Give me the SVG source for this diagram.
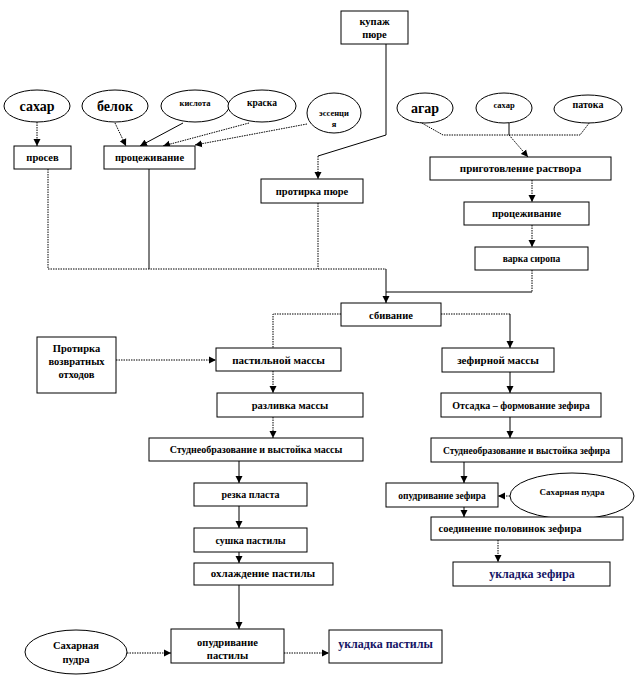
<svg xmlns="http://www.w3.org/2000/svg" width="636" height="687" viewBox="0 0 636 687">
<style>
text{font-family:"Liberation Serif","Times New Roman",serif;font-weight:bold;fill:#000;text-anchor:middle}
.n rect,.n ellipse{fill:#fff;stroke:#000;stroke-width:1}
.b{font-size:10px}
.big{font-size:14px}
.s{font-size:8.5px}
.m{font-size:10.5px}
.blue{fill:#141464;font-size:12px}
#connectors path{fill:none;stroke:#000;stroke-width:1}
#connectors .d{stroke-dasharray:1.5 1}
#connectors .ar{marker-end:url(#ah)}
</style>
<defs>
<marker id="ah" markerWidth="8" markerHeight="8" refX="7" refY="4" orient="auto" markerUnits="userSpaceOnUse">
<path d="M0,0.5 L7,4 L0,7.5 Z" fill="#000"/>
</marker>
</defs>
<rect width="636" height="687" fill="#fff"/>

<g id="connectors">
<path class="d ar" d="M37,122 V146"/>
<path class="d ar" d="M115,123 L126,146"/>
<path class="ar" d="M183,123 L140,146"/>
<path class="d ar" d="M249,123 L163,146"/>
<path class="d ar" d="M307,124 L195,145"/>
<path d="M386,44 V135 L318,156"/>
<path class="d ar" d="M318,156 V179"/>
<path class="d" d="M420,122 L443,135 H580 L590,122"/>
<path d="M509,123 V135"/>
<path class="d ar" d="M509,135 L528,157"/>
<path class="d ar" d="M532,180 V202"/>
<path class="d ar" d="M532,225 V247"/>
<path class="d" d="M48,169 V269 H386"/>
<path d="M149,169 V269"/>
<path class="d" d="M318,203 V269"/>
<path class="ar" d="M386,269 V303"/>
<path class="d" d="M532,270 V292"/>
<path d="M532,292 H386"/>
<path class="d" d="M341,314 H273 V348"/>
<path class="d" d="M441,314 H510"/>
<path class="ar" d="M510,314 V348"/>
<path class="d ar" d="M116,360 H216"/>
<path class="d ar" d="M273,371 V393"/>
<path class="d ar" d="M273,417 V438"/>
<path class="ar" d="M239,461 V483"/>
<path class="ar" d="M239,506 V528"/>
<path class="ar" d="M239,552 V563"/>
<path class="ar" d="M239,585 V629"/>
<path class="d ar" d="M127,653 H171"/>
<path class="d ar" d="M284,653 H329"/>
<path class="ar" d="M510,372 V393"/>
<path class="ar" d="M510,417 V438"/>
<path class="ar" d="M464,462 V483"/>
<path class="d ar" d="M510,496 H498"/>
<path class="ar" d="M464,507 V517"/>
<path class="d ar" d="M498,540 V562"/>
</g>

<g id="n-sahar1" class="n"><ellipse cx="37" cy="106" rx="33" ry="16"/><text class="big" x="37" y="111">сахар</text></g>
<g id="n-belok" class="n"><ellipse cx="115" cy="106" rx="33" ry="16"/><text class="big" x="115" y="111">белок</text></g>
<g id="n-kislota" class="n"><ellipse cx="195" cy="106" rx="34" ry="16"/><text class="s" x="195" y="106">кислота</text></g>
<g id="n-kraska" class="n"><ellipse cx="262" cy="106" rx="34" ry="16"/><text class="s" x="262" y="106" style="font-size:9.5px">краска</text></g>
<g id="n-essence" class="n"><ellipse cx="334" cy="113" rx="27" ry="20"/><text class="s" x="334" y="116">эссенци</text><text class="s" x="334" y="127">я</text></g>
<g id="n-agar" class="n"><ellipse cx="425" cy="108" rx="28" ry="15"/><text class="big" x="425" y="113">агар</text></g>
<g id="n-sahar2" class="n"><ellipse cx="504" cy="108" rx="28" ry="15"/><text class="s" x="504" y="108">сахар</text></g>
<g id="n-patoka" class="n"><ellipse cx="588" cy="109" rx="34" ry="14"/><text class="s" x="588" y="108" style="font-size:10px">патока</text></g>

<g id="n-kupazh" class="n"><rect x="341" y="11" width="67" height="33"/><text class="m" x="374.5" y="25">купаж</text><text class="m" x="374.5" y="38">пюре</text></g>
<g id="n-prosev" class="n"><rect x="14" y="146" width="57" height="23"/><text class="m" x="42.5" y="161">просев</text></g>
<g id="n-proc1" class="n"><rect x="104" y="146" width="91" height="23"/><text class="m" x="149.5" y="161">процеживание</text></g>
<g id="n-protirka" class="n"><rect x="261" y="179" width="102" height="24"/><text class="m" x="312" y="194.5">протирка пюре</text></g>
<g id="n-rastvor" class="n"><rect x="430" y="157" width="181" height="23"/><text class="m" x="520.5" y="172" style="font-size:11px">приготовление раствора</text></g>
<g id="n-proc2" class="n"><rect x="464" y="202" width="125" height="23"/><text class="m" x="526.5" y="217">процеживание</text></g>
<g id="n-sirop" class="n"><rect x="475" y="247" width="113" height="23"/><text class="m" x="531.5" y="262" style="font-size:9.5px">варка сиропа</text></g>
<g id="n-sbivanie" class="n"><rect x="341" y="303" width="100" height="23"/><text class="m" x="391" y="318.5">сбивание</text></g>
<g id="n-otkhody" class="n"><rect x="37" y="337" width="79" height="56"/><text class="m" x="76.5" y="352">Протирка</text><text class="m" x="76.5" y="365">возвратных</text><text class="m" x="76.5" y="378">отходов</text></g>
<g id="n-pastil" class="n"><rect x="216" y="348" width="125" height="23"/><text class="m" x="278.5" y="363.5" style="font-size:11px">пастильной массы</text></g>
<g id="n-zefir" class="n"><rect x="442" y="348" width="112" height="24"/><text class="m" x="498" y="364" style="font-size:11px">зефирной массы</text></g>
<g id="n-razlivka" class="n"><rect x="217" y="393" width="146" height="24"/><text class="m" x="290" y="408.5">разливка массы</text></g>
<g id="n-otsadka" class="n"><rect x="441" y="393" width="160" height="24"/><text class="b" x="521" y="408.5">Отсадка – формование зефира</text></g>
<g id="n-stud1" class="n"><rect x="149" y="438" width="214" height="23"/><text class="b" x="256" y="453">Студнеобразование и выстойка массы</text></g>
<g id="n-stud2" class="n"><rect x="431" y="438" width="191" height="24"/><text class="s" x="526.5" y="453.5" style="font-size:9.5px">Студнеобразование и выстойка зефира</text></g>
<g id="n-rezka" class="n"><rect x="194" y="483" width="113" height="23"/><text class="m" x="250.5" y="498" style="font-size:10px">резка пласта</text></g>
<g id="n-opudr-z" class="n"><rect x="386" y="483" width="112" height="24"/><text class="m" x="442" y="498.5" style="font-size:9.5px">опудривание зефира</text></g>
<g id="n-pudra2" class="n"><ellipse cx="572" cy="496" rx="62" ry="23"/><text class="s" x="572" y="495" style="font-size:9px">Сахарная пудра</text></g>
<g id="n-sushka" class="n"><rect x="194" y="528" width="113" height="24"/><text class="m" x="250.5" y="544" style="font-size:10px">сушка пастилы</text></g>
<g id="n-soed" class="n"><rect x="431" y="517" width="192" height="23"/><text class="m" x="510" y="532">соединение половинок зефира</text></g>
<g id="n-ohlazh" class="n"><rect x="194" y="563" width="139" height="22"/><text class="m" x="263" y="577" style="font-size:11px">охлаждение пастилы</text></g>
<g id="n-ukl-z" class="n"><rect x="453" y="562" width="157" height="24"/><text class="blue" x="532" y="578">укладка зефира</text></g>
<g id="n-pudra1" class="n"><ellipse cx="76" cy="652" rx="51" ry="22"/><text class="m" x="76" y="649">Сахарная</text><text class="m" x="76" y="663">пудра</text></g>
<g id="n-opudr-p" class="n"><rect x="171" y="629" width="113" height="34"/><text class="m" x="227.5" y="646">опудривание</text><text class="m" x="227.5" y="659">пастилы</text></g>
<g id="n-ukl-p" class="n"><rect x="329" y="630" width="113" height="33"/><text class="blue" x="385.5" y="648">укладка пастилы</text></g>
</svg>
